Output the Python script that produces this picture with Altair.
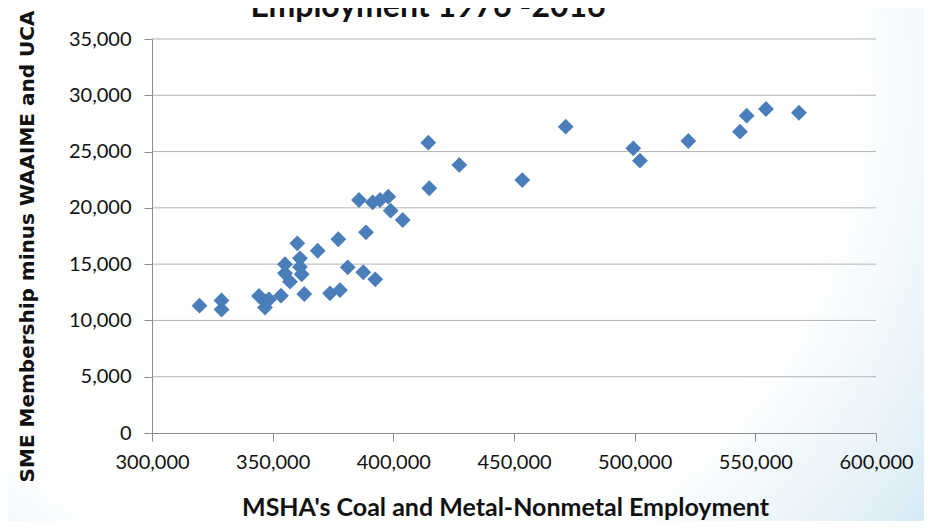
import altair as alt
import pandas as pd

# MSHA employment (x) vs SME membership minus WAAIME and UCA (y), 1976-2016
msha_employment = [
    319680, 328800, 328800, 344340, 346820, 348480, 346820, 353450, 355110, 355110,
    357180, 360200, 361320, 361320, 362030, 363110, 368660, 373750, 377900, 377190,
    381090, 385770, 387550, 388670, 391450, 392520, 394470, 397910, 398900, 403880,
    414490, 414900, 427330, 453430, 471420, 499430, 502200, 522220, 543640, 546410,
    554410, 568080,
]
sme_membership = [
    11310, 11770, 10970, 12170, 11680, 11860, 11150, 12200, 14990, 14190,
    13440, 16850, 15520, 14750, 14100, 12350, 16190, 12410, 12700, 17210,
    14720, 20700, 14280, 17830, 20490, 13650, 20700, 20990, 19750, 18920,
    25790, 21740, 23810, 22470, 27210, 25290, 24190, 25940, 26770, 28190,
    28780, 28450,
]
x_ticks = [300000, 350000, 400000, 450000, 500000, 550000, 600000]
y_ticks = [0, 5000, 10000, 15000, 20000, 25000, 30000, 35000]
grid_values = [5000, 10000, 15000, 20000, 25000, 30000, 35000]
chart_title = ["Employment  1976 -2016"]

W, H = 724, 394
PL, PT, PR, PB = 144, 31, 48, 88

df = pd.DataFrame({"msha": msha_employment, "sme": sme_membership})
grid_df = pd.DataFrame({"g": grid_values})
title_df = pd.DataFrame({"t": chart_title})
bg_df = pd.DataFrame({"a": [0]})

xscale = alt.Scale(domain=[300000, 600000], nice=False, zero=False)
yscale = alt.Scale(domain=[0, 35000], nice=False)

background = alt.Chart(bg_df).mark_rect(
    color=alt.RadialGradient(
        gradient="radial",
        x1=0.38, y1=0.3, r1=0,
        x2=0.38, y2=0.3, r2=0.9,
        stops=[
            alt.GradientStop(offset=0, color="#ffffff"),
            alt.GradientStop(offset=0.6, color="#ffffff"),
            alt.GradientStop(offset=0.8, color="#e4f1f8"),
            alt.GradientStop(offset=1, color="#bcdff0"),
        ],
    )
).encode(
    x=alt.value(-PL), x2=alt.value(W + PR),
    y=alt.value(-PT), y2=alt.value(H + PB),
)

grid = alt.Chart(grid_df).mark_rule(color="#b4b4b4", strokeWidth=1).encode(
    y=alt.Y("g:Q", scale=yscale),
    x=alt.value(0), x2=alt.value(W),
)

points = alt.Chart(df).mark_point(
    shape="diamond", filled=True, size=250, color="#4A7EBB", opacity=1
).encode(
    x=alt.X(
        "msha:Q", scale=xscale,
        axis=alt.Axis(
            values=x_ticks, format=",.0f", grid=False, labelFlush=False,
            domainColor="#8c8c8c", tickColor="#8c8c8c", tickSize=8,
            labelFont="Lato", labelFontSize=20, labelColor="#111111", labelPadding=11,
            title="MSHA's Coal and Metal-Nonmetal Employment",
            titleFont="Lato", titleFontSize=25, titleFontWeight="bold",
            titleColor="#111111", titlePadding=23, titleX=353, zindex=1,
        ),
    ),
    y=alt.Y(
        "sme:Q", scale=yscale,
        axis=alt.Axis(
            values=y_ticks, format=",.0f", grid=False, labelFlush=False,
            domainColor="#8c8c8c", tickColor="#8c8c8c", tickSize=8,
            labelFont="Lato", labelFontSize=20, labelColor="#111111", labelPadding=13,
            title="SME Membership minus WAAIME and UCA",
            titleFont="DejaVu Sans", titleFontSize=20, titleFontWeight="bold",
            titleColor="#111111", titlePadding=31, titleY=207, zindex=1,
        ),
    ),
)

title = alt.Chart(title_df).mark_text(
    font="Lato", fontSize=32, fontWeight="bold", color="#111111",
    align="center", baseline="alphabetic",
).encode(
    text="t:N",
    x=alt.value(276), y=alt.value(-22),
)

chart = alt.layer(background, grid, points, title).properties(
    width=W, height=H,
    autosize=alt.AutoSizeParams(type="none"),
    padding={"left": PL, "top": PT, "right": PR, "bottom": PB},
).configure_view(stroke=None)

chart.save("out.html", embed_options={"renderer": "svg", "actions": False})
